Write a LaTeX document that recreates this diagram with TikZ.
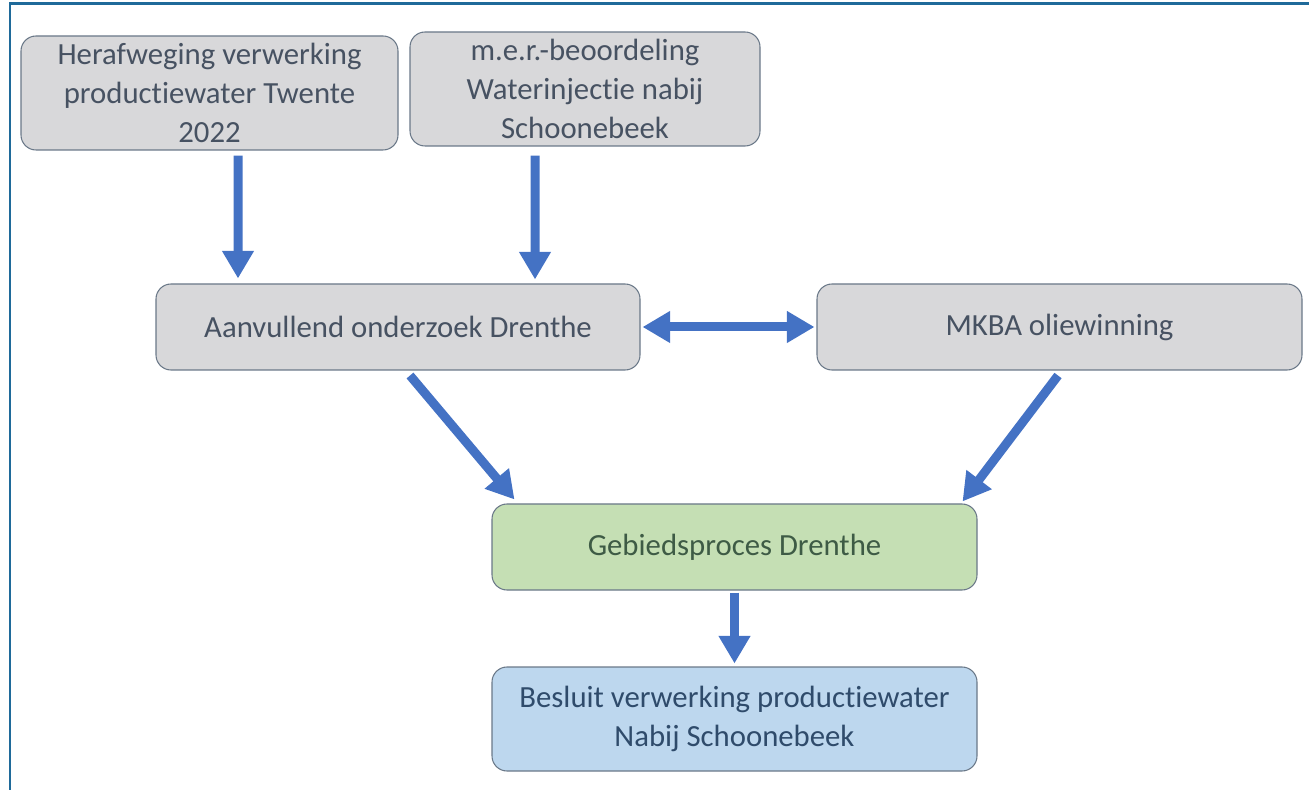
\documentclass[tikz,border=0pt]{standalone}
\usepackage{fontspec}
\setmainfont{Carlito}[RawFeature={-liga}]
\usetikzlibrary{arrows.meta}
\definecolor{boxgray}{HTML}{D8D8DA}
\definecolor{boxgreen}{HTML}{C5DFB4}
\definecolor{boxblue}{HTML}{BDD7EE}
\definecolor{edgeslate}{HTML}{6A7888}
\definecolor{txtslate}{HTML}{475262}
\definecolor{txtgreen}{HTML}{3E5B45}
\definecolor{txtblue}{HTML}{2F4B6B}
\definecolor{arrowblue}{HTML}{4472C4}
\definecolor{framebl}{HTML}{1F6A9A}
\tikzset{
  procbox/.style={draw=edgeslate,line width=0.6pt,rounded corners=0.3cm,align=center,
    inner sep=0pt,font=\fontsize{17.5}{22}\selectfont,text=txtslate,fill=boxgray},
  flowarrow/.style={draw=arrowblue,line width=0.18cm,-{Triangle[width=0.6cm,length=0.55cm]}},
  frameline/.style={draw=framebl,line width=0.06cm}
}
\begin{document}
\begin{tikzpicture}
\useasboundingbox(0,0)rectangle(26.18,-15.8);
\draw[frameline](0.2,-15.8)--(0.2,-0.08)--(26.18,-0.08);
% input studies
\node[procbox,minimum width=7.54cm,minimum height=2.28cm](herafweging)at(4.19,-1.86){Herafweging verwerking\\productiewater Twente\\2022};
\node[procbox,minimum width=7.0cm,minimum height=2.28cm](mer)at(11.70,-1.78){m.e.r.-beoordeling\\Waterinjectie nabij\\Schoonebeek};
\node[procbox,minimum width=9.68cm,minimum height=1.72cm](aanvullend)at(7.96,-6.54){Aanvullend onderzoek Drenthe};
\node[procbox,minimum width=9.7cm,minimum height=1.72cm](mkba)at(21.19,-6.54){MKBA oliewinning};
% process and decision
\node[procbox,fill=boxgreen,text=txtgreen,minimum width=9.7cm,minimum height=1.72cm](gebied)at(14.69,-10.94){Gebiedsproces Drenthe};
\node[procbox,fill=boxblue,text=txtblue,minimum width=9.7cm,minimum height=2.08cm](besluit)at(14.69,-14.38){Besluit verwerking productiewater\\Nabij Schoonebeek};
\draw[flowarrow]([xshift=0.57cm,yshift=-0.1cm]herafweging.south)--([xshift=-3.2cm,yshift=0.1cm]aanvullend.north);
\draw[flowarrow]([xshift=-1.0cm,yshift=-0.18cm]mer.south)--([xshift=2.74cm,yshift=0.08cm]aanvullend.north);
\draw[flowarrow,{Triangle[width=0.6cm,length=0.55cm]}-{Triangle[width=0.6cm,length=0.55cm]}]([xshift=0.04cm]aanvullend.east)--([xshift=-0.04cm]mkba.west);
\draw[flowarrow]([xshift=0.24cm,yshift=-0.1cm]aanvullend.south)--([xshift=0.46cm,yshift=0.08cm]gebied.north west);
\draw[flowarrow]([xshift=-0.03cm,yshift=-0.1cm]mkba.south)--([xshift=-0.3cm,yshift=0.04cm]gebied.north east);
\draw[flowarrow]([yshift=-0.04cm]gebied.south)--([yshift=0.06cm]besluit.north);
\end{tikzpicture}
\end{document}
